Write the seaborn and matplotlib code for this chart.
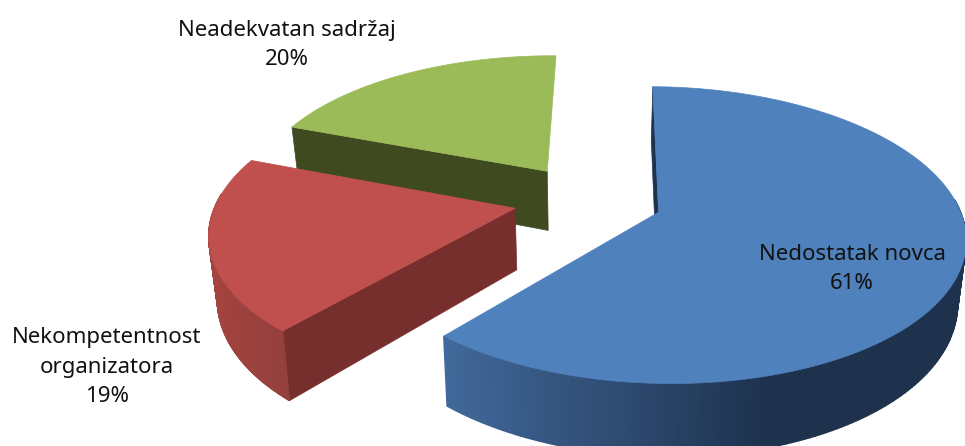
import numpy as np
import matplotlib
matplotlib.use("Agg")
import matplotlib.pyplot as plt
import seaborn as sns
from matplotlib.colors import to_rgb

labels = ["Nedostatak novca", "Nekompetentnost\norganizatora", "Neadekvatan sadržaj"]
values = [61.4, 19.4, 19.6]
top_colors = ["#4f81bd", "#c0504d", "#9bbb59"]
face_colors = ["#1f3350", "#772f2d", "#3f4a21"]
side_left = ["#42699b", "#a5433f", "#7c9647"]
side_right = ["#1e324e", "#93403d", "#5c6f34"]
label_pos = [(852, 269), (107, 367), (287, 45)]

sns.set_theme(style="white")
plt.rcParams["font.family"] = ["Noto Sans", "DejaVu Sans"]

# pie geometry, in pixels
cx, cy = 588, 199.5
a, b = 298, 141
k = 0.152
explode = 0.25
depth = 61
shrink = 0.977
start = 0.8


def project(u, v):
    x = cx + a * u / (1 - k * v)
    y = cy + b * v / (1 - k * v)
    return x, y


def project_low(u, v):
    x, y = project(u, v)
    return cx + (x - cx) * shrink, y + depth / (1 - k * v)


def lerp(c1, c2, t):
    c1, c2 = np.array(to_rgb(c1)), np.array(to_rgb(c2))
    return tuple(c1 + (c2 - c1) * t)


fig, ax = plt.subplots(figsize=(9.65, 4.46), dpi=100)
fig.subplots_adjust(0, 0, 1, 1)
ax.set_xlim(0, 965)
ax.set_ylim(446, 0)
ax.axis("off")

angles = start + np.concatenate([[0], np.cumsum(values)]) / sum(values) * 360

# back slices first, the blue one last
for i in [2, 1, 0]:
    phi = np.radians(np.linspace(angles[i], angles[i + 1], 200))
    mid = np.radians((angles[i] + angles[i + 1]) / 2)
    ou, ov = explode * np.sin(mid), -explode * np.cos(mid)
    u = ou + np.sin(phi)
    v = ov - np.cos(phi)
    xt, yt = project(u, v)
    xb, yb = project_low(u, v)
    ax0, ay0 = project(ou, ov)
    bx0, by0 = project_low(ou, ov)

    # only the first cut face can be seen
    ax.fill([ax0, xt[0], xb[0], bx0], [ay0, yt[0], yb[0], by0], color=face_colors[i], lw=0.5)

    # rim with a left to right shade, front part only
    for j in range(len(phi) - 1):
        if np.cos(phi[j]) > 0.1:
            continue
        t = np.clip((xt[j] - xt.min()) / (xt.max() - xt.min()) * (1.6 if i == 0 else 1), 0, 1)
        c = lerp(side_left[i], side_right[i], t)
        ax.fill([xt[j], xt[j + 1], xb[j + 1], xb[j]], [yt[j], yt[j + 1], yb[j + 1], yb[j]],
                color=c, lw=1)

    ax.fill(np.r_[ax0, xt], np.r_[ay0, yt], color=top_colors[i], lw=0.5)

for i in range(3):
    ax.text(label_pos[i][0], label_pos[i][1], f"{labels[i]}\n{values[i]:.0f}%", ha="center", va="center",
            fontsize=16, color="#111111", linespacing=1.5)

fig.savefig("out.png", dpi=100)
